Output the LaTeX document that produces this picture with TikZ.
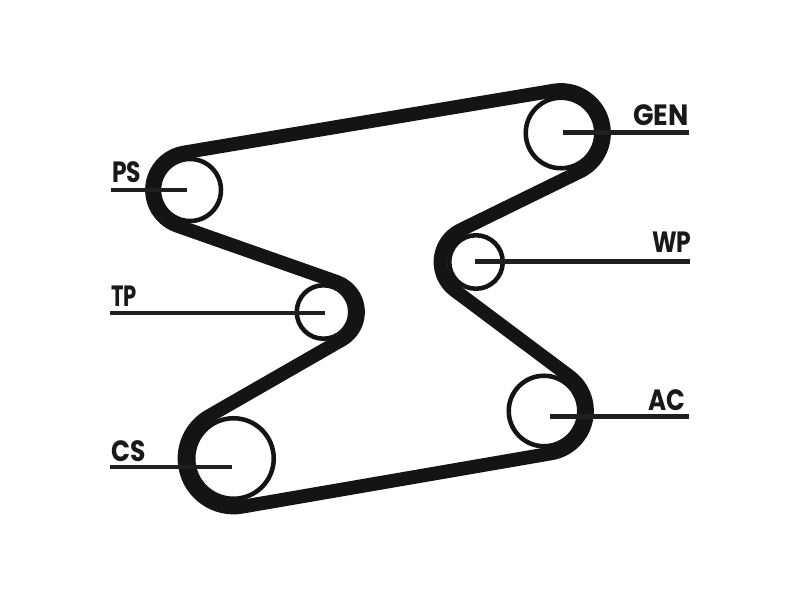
\documentclass[tikz,border=0pt]{standalone}
\usepackage{fontspec}
\setmainfont{Poppins}
\usetikzlibrary{calc}
\tikzset{
  x=0.75pt,y=0.75pt,
  belt/.style={line width=10.3pt,line join=round,black!92},
  pulley/.style={circle,draw=black!92,line width=3.4pt,inner sep=0pt,outer sep=0pt,minimum size=#1*0.75pt},
  leader/.style={line width=3.5pt,black!88},
  lbl/.style={anchor=base west,inner sep=0pt,outer sep=0pt,text=black!90,font=\fontsize{22}{22}\selectfont\bfseries,transform shape}
}
\begin{document}
\begin{tikzpicture}
\path[use as bounding box,fill=white] (0,0) rectangle (800,600);
% pulleys
\node[pulley=62] (ps) at (190,410) {};
\node[pulley=70.5] (gen) at (561,467) {};
\node[pulley=53.5] (wp) at (476,338) {};
\node[pulley=70.5] (ac) at (544,189) {};
\node[pulley=80.5] (cs) at (233.5,141.5) {};
\node[pulley=53.5] (tp) at (323.5,288) {};
\coordinate (tpb) at (326,288);
% belt
\draw[belt] ($(ps.center)+(99.49:38)$) -- ($(gen.center)+(99.49:43)$)
  arc[start angle=99.49,end angle=-63.94,radius=43]
  -- ($(wp.center)+(116.06:35.5)$)
  arc[start angle=116.06,end angle=233.17,radius=35.5]
  -- ($(ac.center)+(53.17:43)$)
  arc[start angle=53.17,end angle=-80.21,radius=43]
  -- ($(cs.center)+(279.79:49)$)
  arc[start angle=279.79,end angle=119.86,radius=49]
  -- ($(tpb)+(-60.14:32)$)
  arc[start angle=-60.14,end angle=70.63,radius=32]
  -- ($(ps.center)+(250.63:38)$)
  arc[start angle=250.63,end angle=99.49,radius=38] -- cycle;
% leader ends
\coordinate (psA) at (110.5,410);
\coordinate (psB) at (187,410);
\coordinate (tpA) at (110,287);
\coordinate (tpB) at (325,287);
\coordinate (csA) at (109.5,133);
\coordinate (csB) at (231.7,133);
\coordinate (genA) at (689,467.5);
\coordinate (genB) at (563,467.5);
\coordinate (wpA) at (690,338.5);
\coordinate (wpB) at (475,338.5);
\coordinate (acA) at (689,183.5);
\coordinate (acB) at (550,183.5);
\draw[leader] (psA) -- (psB);
\draw[leader] (tpA) -- (tpB);
\draw[leader] (csA) -- (csB);
\draw[leader] (genA) -- (genB);
\draw[leader] (wpA) -- (wpB);
\draw[leader] (acA) -- (acB);
% labels
\node[lbl,xscale=.8] (lps) at (112,417.3) {PS};
\node[lbl,xscale=.72] (ltp) at (111,293.3) {TP};
\node[lbl,xscale=.85] (lcs) at (111,138.3) {CS};
\node[lbl,xscale=.92] (lgen) at (633,474) {GEN};
\node[lbl,xscale=.8] (lwp) at (652,347) {WP};
\node[lbl,xscale=.84] (lac) at (648,189.3) {AC};
\end{tikzpicture}
\end{document}
